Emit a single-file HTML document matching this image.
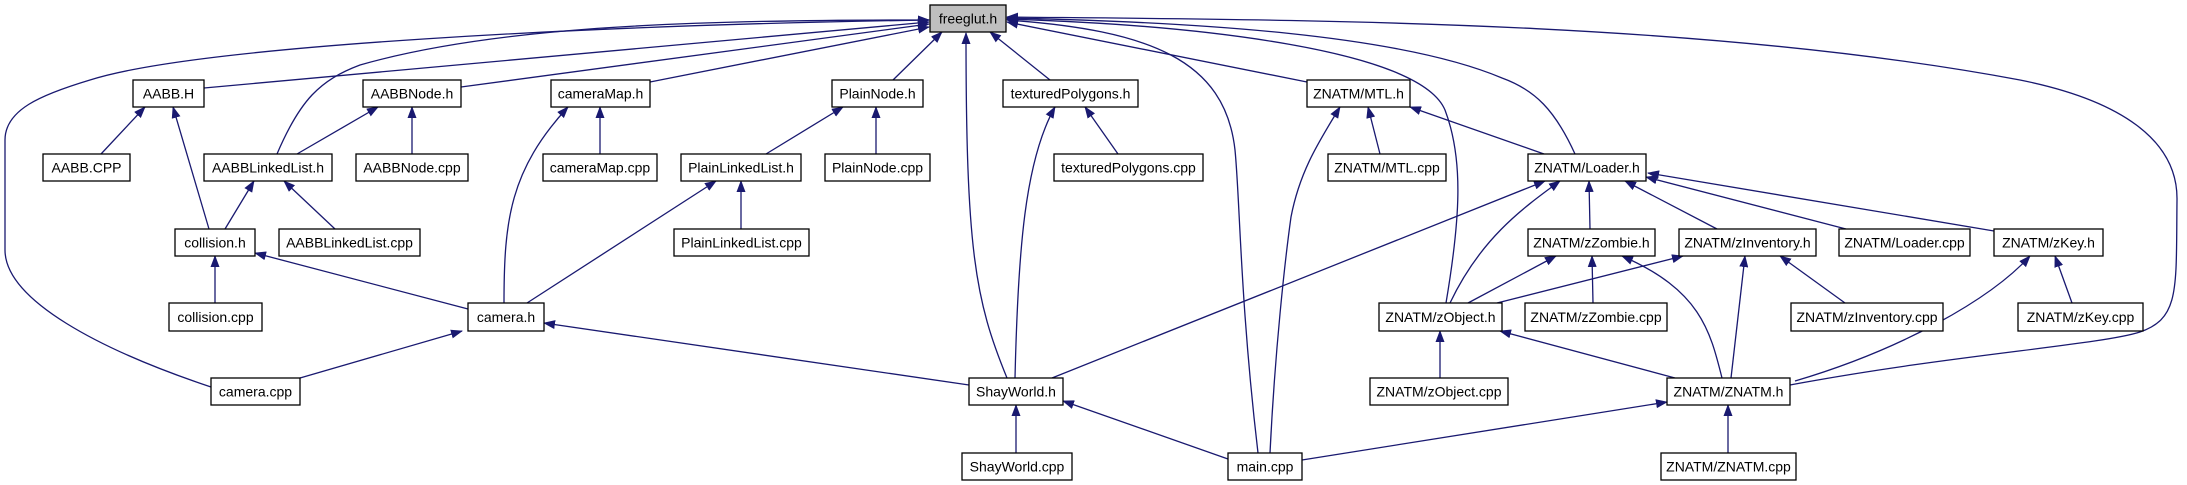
<!DOCTYPE html>
<html><head><meta charset="utf-8"><style>
html,body{margin:0;padding:0;background:#fff}
svg{display:block}
text{font-family:"Liberation Sans",Arial,sans-serif;font-size:14px;fill:#000;text-anchor:middle}
.b{fill:#fff;stroke:#000;stroke-width:1.3}
.e{fill:none;stroke:#191970;stroke-width:1.3;marker-end:url(#a)}
</style></head><body>
<svg width="2187" height="485" viewBox="0 0 2187 485" xmlns="http://www.w3.org/2000/svg">
<defs><marker id="a" markerWidth="12" markerHeight="9" refX="11" refY="4.5" orient="auto" markerUnits="userSpaceOnUse"><path d="M0,0 L12,4.5 L0,9 Z" fill="#191970"/></marker></defs>
<g>
<path class="e" d="M204,88 L929,22"/>
<path class="e" d="M461,87 L929,24"/>
<path class="e" d="M650,82 L929,27"/>
<path class="e" d="M893,80 L942,32"/>
<path class="e" d="M1050,80 L990,32"/>
<path class="e" d="M1007,378 C975,300 966,250 966,33"/>
<path class="e" d="M1258,453 C1240,300 1240,200 1235,150 C1225,60 1150,30 1007,20"/>
<path class="e" d="M1307,82 L1007,22"/>
<path class="e" d="M1446,303 C1460,220 1464,160 1445,110 C1420,50 1200,25 1007,19"/>
<path class="e" d="M1575,154 C1555,110 1535,90 1502,78 C1400,35 1200,22 1007,18"/>
<path class="e" d="M1790,385 C1950,355 2100,345 2140,332 C2180,318 2176,290 2177,200 C2178,140 2120,100 2020,80 C1700,20 1300,20 1007,17"/>
<path class="e" d="M211,387 C100,350 5,300 5,250 L5,140 C5,110 40,95 90,80 C200,45 600,25 929,20"/>
<path class="e" d="M277,154 C300,100 320,80 360,65 C500,25 700,20 929,20"/>
<path class="e" d="M101,154 L145,107"/>
<path class="e" d="M209,229 L173,107"/>
<path class="e" d="M297,154 L378,107"/>
<path class="e" d="M412,154 L412,107"/>
<path class="e" d="M225,229 L254,181"/>
<path class="e" d="M335,229 L284,181"/>
<path class="e" d="M215,303 L215,256"/>
<path class="e" d="M468,309 L255,253"/>
<path class="e" d="M504,303 C504,220 510,170 568,107"/>
<path class="e" d="M600,154 L600,107"/>
<path class="e" d="M527,303 L716,181"/>
<path class="e" d="M766,154 L843,107"/>
<path class="e" d="M876,154 L876,107"/>
<path class="e" d="M741,229 L741,181"/>
<path class="e" d="M300,378 L462,331"/>
<path class="e" d="M969,385 L544,323"/>
<path class="e" d="M1015,378 C1018,250 1025,160 1055,107"/>
<path class="e" d="M1118,154 L1085,107"/>
<path class="e" d="M1016,453 L1016,405"/>
<path class="e" d="M1228,459 L1063,401"/>
<path class="e" d="M1052,378 L1545,181"/>
<path class="e" d="M1270,453 C1275,350 1285,260 1291,217 C1300,170 1320,140 1340,107"/>
<path class="e" d="M1380,154 L1368,107"/>
<path class="e" d="M1544,154 L1410,107"/>
<path class="e" d="M1450,303 C1480,240 1520,210 1560,181"/>
<path class="e" d="M1590,229 L1589,181"/>
<path class="e" d="M1717,229 L1625,181"/>
<path class="e" d="M1846,229 L1646,177"/>
<path class="e" d="M1994,231 L1648,173"/>
<path class="e" d="M1468,303 L1556,256"/>
<path class="e" d="M1593,303 L1592,256"/>
<path class="e" d="M1497,303 L1683,256"/>
<path class="e" d="M1722,378 C1710,330 1700,290 1622,256"/>
<path class="e" d="M1731,378 L1745,256"/>
<path class="e" d="M1845,303 L1780,256"/>
<path class="e" d="M1675,378 L1500,331"/>
<path class="e" d="M1795,381 C1900,350 1990,300 2030,256"/>
<path class="e" d="M2072,303 L2055,256"/>
<path class="e" d="M1440,378 L1440,331"/>
<path class="e" d="M1302,460 L1667,402"/>
<path class="e" d="M1728,453 L1728,405"/>
</g>
<g>
<rect x="930" y="5" width="76" height="27" fill="#bfbfbf" stroke="#000" stroke-width="1.3"/><text x="968" y="23.5">freeglut.h</text>
<rect class="b" x="133" y="80" width="71" height="27"/><text x="168.5" y="98.5">AABB.H</text>
<rect class="b" x="363" y="80" width="98" height="27"/><text x="412" y="98.5">AABBNode.h</text>
<rect class="b" x="551" y="80" width="99" height="27"/><text x="600.5" y="98.5">cameraMap.h</text>
<rect class="b" x="832" y="80" width="91" height="27"/><text x="877.5" y="98.5">PlainNode.h</text>
<rect class="b" x="1003" y="80" width="135" height="27"/><text x="1070.5" y="98.5">texturedPolygons.h</text>
<rect class="b" x="1307" y="80" width="103" height="27"/><text x="1358.5" y="98.5">ZNATM/MTL.h</text>
<rect class="b" x="43" y="154" width="87" height="27"/><text x="86.5" y="172.5">AABB.CPP</text>
<rect class="b" x="204" y="154" width="128" height="27"/><text x="268" y="172.5">AABBLinkedList.h</text>
<rect class="b" x="356" y="154" width="112" height="27"/><text x="412" y="172.5">AABBNode.cpp</text>
<rect class="b" x="543" y="154" width="114" height="27"/><text x="600" y="172.5">cameraMap.cpp</text>
<rect class="b" x="681" y="154" width="120" height="27"/><text x="741" y="172.5">PlainLinkedList.h</text>
<rect class="b" x="825" y="154" width="105" height="27"/><text x="877.5" y="172.5">PlainNode.cpp</text>
<rect class="b" x="1054" y="154" width="149" height="27"/><text x="1128.5" y="172.5">texturedPolygons.cpp</text>
<rect class="b" x="1328" y="154" width="118" height="27"/><text x="1387" y="172.5">ZNATM/MTL.cpp</text>
<rect class="b" x="1528" y="154" width="118" height="27"/><text x="1587" y="172.5">ZNATM/Loader.h</text>
<rect class="b" x="175" y="229" width="80" height="27"/><text x="215" y="247.5">collision.h</text>
<rect class="b" x="279" y="229" width="141" height="27"/><text x="349.5" y="247.5">AABBLinkedList.cpp</text>
<rect class="b" x="674" y="229" width="135" height="27"/><text x="741.5" y="247.5">PlainLinkedList.cpp</text>
<rect class="b" x="1528" y="229" width="127" height="27"/><text x="1591.5" y="247.5">ZNATM/zZombie.h</text>
<rect class="b" x="1679" y="229" width="137" height="27"/><text x="1747.5" y="247.5">ZNATM/zInventory.h</text>
<rect class="b" x="1839" y="229" width="131" height="27"/><text x="1904.5" y="247.5">ZNATM/Loader.cpp</text>
<rect class="b" x="1994" y="229" width="109" height="27"/><text x="2048.5" y="247.5">ZNATM/zKey.h</text>
<rect class="b" x="169" y="303" width="93" height="28"/><text x="215.5" y="322">collision.cpp</text>
<rect class="b" x="468" y="303" width="76" height="28"/><text x="506" y="322">camera.h</text>
<rect class="b" x="1379" y="303" width="123" height="28"/><text x="1440.5" y="322">ZNATM/zObject.h</text>
<rect class="b" x="1525" y="303" width="142" height="28"/><text x="1596" y="322">ZNATM/zZombie.cpp</text>
<rect class="b" x="1791" y="303" width="152" height="28"/><text x="1867" y="322">ZNATM/zInventory.cpp</text>
<rect class="b" x="2018" y="303" width="125" height="28"/><text x="2080.5" y="322">ZNATM/zKey.cpp</text>
<rect class="b" x="211" y="378" width="89" height="27"/><text x="255.5" y="396.5">camera.cpp</text>
<rect class="b" x="969" y="378" width="94" height="27"/><text x="1016" y="396.5">ShayWorld.h</text>
<rect class="b" x="1370" y="378" width="138" height="27"/><text x="1439" y="396.5">ZNATM/zObject.cpp</text>
<rect class="b" x="1667" y="378" width="123" height="27"/><text x="1728.5" y="396.5">ZNATM/ZNATM.h</text>
<rect class="b" x="962" y="453" width="110" height="27"/><text x="1017" y="471.5">ShayWorld.cpp</text>
<rect class="b" x="1228" y="453" width="74" height="27"/><text x="1265" y="471.5">main.cpp</text>
<rect class="b" x="1661" y="453" width="135" height="27"/><text x="1728.5" y="471.5">ZNATM/ZNATM.cpp</text>
</g>
</svg>
</body></html>
